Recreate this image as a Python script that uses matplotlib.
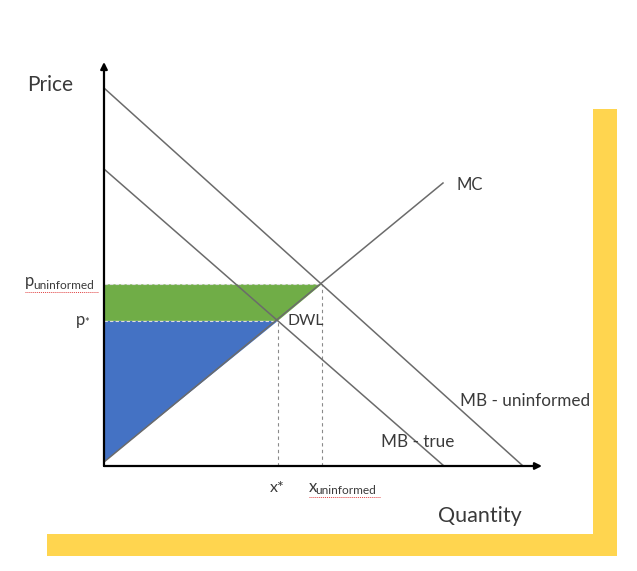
import numpy as np
import matplotlib
matplotlib.use("Agg")
import matplotlib.pyplot as plt
from matplotlib.patches import Polygon, Rectangle

# --- model (quantity, price in axis units) ---
mb_uninf = [378, 419]      # price intercept, quantity intercept
mb_true = [297, 340]
mc_end = [339, 283]        # MC from origin to this point

mc_slope = mc_end[1] / mc_end[0]


def cross(curve):
    # quantity/price where a demand line meets MC
    a, b = curve
    q = a / (a / b + mc_slope)
    return q, mc_slope * q


q_unin, p_unin = cross(mb_uninf)
q_star, p_star = cross(mb_true)

plt.rcParams['font.family'] = ['Lato', 'DejaVu Sans']
ink = '#3a3a3a'
line_c = '#6b6b6b'
green = '#70AD47'
blue = '#4472C4'
yellow = '#FFD54F'
squiggle = '#e04040'

W, H = 637, 571
fig = plt.figure(figsize=(W / 100, H / 100), dpi=100)

# yellow frame behind everything (figure pixel coords)
bg = fig.add_axes([0, 0, 1, 1])
bg.set_xlim(0, W)
bg.set_ylim(H, 0)
bg.axis('off')
bg.add_patch(Rectangle((593, 109), 24, 447, color=yellow, lw=0))
bg.add_patch(Rectangle((47, 534), 570, 22, color=yellow, lw=0))

# chart axes: origin at the axis corner, 1 unit = 1 pixel
x0, y0 = 104, 466
aw, ah = 441, 404
ax = fig.add_axes([x0 / W, (H - y0) / H, aw / W, ah / H])
ax.set_xlim(0, aw)
ax.set_ylim(0, ah)
ax.axis('off')

# shaded areas
ax.add_patch(Polygon([(0, 4), (q_star, p_star), (0, p_star)], closed=True,
                     color=blue, lw=0))
ax.add_patch(Polygon([(0, p_star), (q_star, p_star), (q_unin, p_unin), (0, p_unin)],
                     closed=True, color=green, lw=0))
ax.plot([0, q_unin], [p_unin, p_unin], color='#dddddd', lw=0.8, ls=(0, (3, 2)))
ax.plot([0, q_star], [p_star, p_star], color='#dddddd', lw=0.8, ls=(0, (3, 2)))

# dashed drops to the quantity axis
ax.plot([q_star, q_star], [0, p_star], color='#8a8a8a', lw=0.8, ls=(0, (3, 3)))
ax.plot([q_unin, q_unin], [0, p_unin], color='#8a8a8a', lw=0.8, ls=(0, (3, 3)))

# curves
ax.plot([0, mb_uninf[1]], [mb_uninf[0], 0], color=line_c, lw=1.1, clip_on=False)
ax.plot([0, mb_true[1]], [mb_true[0], 0], color=line_c, lw=1.1, clip_on=False)
ax.plot([0, mc_end[0]], [4, mc_end[1]], color=line_c, lw=1.1, clip_on=False)

# axes with arrows
ax.annotate('', xy=(0, ah), xytext=(0, 0),
            arrowprops=dict(arrowstyle='-|>', color='black', lw=1.6,
                            mutation_scale=10, shrinkA=0, shrinkB=0))
ax.annotate('', xy=(aw - 3, 0), xytext=(0, 0),
            arrowprops=dict(arrowstyle='-|>', color='black', lw=1.6,
                            mutation_scale=10, shrinkA=0, shrinkB=0))

# labels
bg.text(27, 85, 'Price', fontsize=15, color=ink, va='center', ha='left')
bg.text(438, 516, 'Quantity', fontsize=15.5, color=ink, va='center', ha='left')
ax.text(mc_end[0] + 13, mc_end[1] - 2, 'MC', fontsize=12, color=ink, va='center')
ax.text(356, 65, 'MB - uninformed', fontsize=12.3, color=ink, va='center')
ax.text(277, 24, 'MB - true', fontsize=12.3, color=ink, va='center')
ax.text(q_star + 10, p_star, 'DWL', fontsize=11.3, color=ink, va='center')

# price tick labels
ax.text(-79, p_unin + 3, 'p', fontsize=12, color=ink, va='center')
ax.text(-71, p_unin - 1, 'uninformed', fontsize=8.6, color=ink, va='center')
ax.plot([-79, -6], [p_unin - 8, p_unin - 8], color=squiggle, lw=0.7, ls=(0, (1, 1)),
        clip_on=False)
ax.text(-28, p_star + 1, 'p', fontsize=12, color=ink, va='center')
ax.text(-20, p_star - 2, '*', fontsize=8, color=ink, va='center')

# quantity tick labels
ax.text(q_star - 1, -22, 'x*', fontsize=11.5, color=ink, ha='center', va='center')
ax.text(q_unin - 13, -21, 'x', fontsize=12, color=ink, va='center')
ax.text(q_unin - 6, -25, 'uninformed', fontsize=8.6, color=ink, va='center')
ax.plot([q_unin - 13, q_unin + 58], [-31, -31], color=squiggle, lw=0.7, ls=(0, (1, 1)),
        clip_on=False)

fig.savefig('out.png', dpi=100, facecolor='white')
